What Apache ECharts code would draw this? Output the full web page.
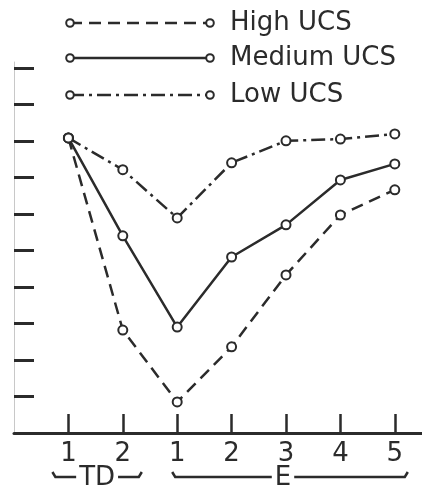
<!DOCTYPE html>
<html>
<head>
<meta charset="utf-8">
<script src="https://cdn.jsdelivr.net/npm/echarts@6/dist/echarts.min.js"></script>
<style>
html,body{margin:0;padding:0;background:#fff;}
#c{width:422px;height:489px;}
</style>
</head>
<body>
<div id="c"></div>
<script>
// ---- data ----
const tickLabels = ['1', '2', '1', '2', '3', '4', '5'];
const groupNames = ['TD', 'E'];
const groupSpans = [[1, 2], [3, 7]]; // positions (1-based) covered by each group
const seriesNames = ['High UCS', 'Medium UCS', 'Low UCS'];
const highUCS = [8.08, 2.82, 0.85, 2.36, 4.33, 5.97, 6.66];
const mediumUCS = [8.08, 5.40, 2.90, 4.82, 5.70, 6.93, 7.37];
const lowUCS = [8.08, 7.21, 5.89, 7.40, 8.00, 8.05, 8.19];
const yTicks = [1, 2, 3, 4, 5, 6, 7, 8, 9, 10];

// ---- styles ----
const ink = '#2b2b2b';
const font = 'DejaVu Sans';
const dashes = [[12, 7], 'solid', [14, 5, 3, 5]];
const values = [highUCS, mediumUCS, lowUCS];
const xPos = tickLabels.map((_, i) => i + 1);

const chart = echarts.init(document.getElementById('c'), null, {renderer: 'canvas'});

chart.setOption({
  animation: false,
  backgroundColor: '#fff',
  grid: {left: 14, right: 0, top: 62, bottom: 56, containLabel: false},
  xAxis: {
    type: 'value', min: 0, max: 7.5, interval: 1,
    axisLine: {show: true, lineStyle: {color: ink, width: 3}},
    axisTick: {show: true, inside: true, length: 19, customValues: xPos,
      lineStyle: {color: ink, width: 2.5}},
    axisLabel: {show: true, customValues: xPos, margin: 8,
      formatter: v => tickLabels[Math.round(v) - 1] || '',
      fontFamily: font, fontSize: 26, color: ink},
    splitLine: {show: false}
  },
  yAxis: {
    type: 'value', min: 0, max: 10.16,
    axisLine: {show: true, lineStyle: {color: '#c8c8c8', width: 1}},
    axisTick: {show: true, inside: true, length: 20, customValues: yTicks,
      lineStyle: {color: ink, width: 3}},
    axisLabel: {show: false},
    splitLine: {show: false}
  },
  series: seriesNames.map((name, s) => ({
    name: name,
    type: 'line',
    data: xPos.map((x, i) => [x, values[s][i]]),
    symbol: 'emptyCircle',
    symbolSize: 9,
    itemStyle: {color: ink, borderColor: ink, borderWidth: 2},
    lineStyle: {color: ink, width: 2.5, type: dashes[s]},
    z: 3
  }))
});

// ---- legend and group brackets as graphic elements ----
const graphics = [];
const legendX0 = 70, legendX1 = 210, legendY = [23, 58, 95];
seriesNames.forEach((name, s) => {
  const y = legendY[s];
  graphics.push({type: 'line', shape: {x1: legendX0, y1: y, x2: legendX1, y2: y},
    style: {stroke: ink, lineWidth: 2.5, lineDash: dashes[s] === 'solid' ? null : dashes[s]}});
  [legendX0, legendX1].forEach(cx => graphics.push({type: 'circle', shape: {cx: cx, cy: y, r: 3.8},
    style: {fill: '#fff', stroke: ink, lineWidth: 2}, z: 10}));
  graphics.push({type: 'text', x: 230, y: y, style: {text: name, font: '26px "' + font + '"',
    fill: ink, verticalAlign: 'middle', align: 'left'}});
});

const by = 477;
groupNames.forEach((g, k) => {
  const a = chart.convertToPixel({gridIndex: 0}, [groupSpans[k][0], 0])[0];
  const b = chart.convertToPixel({gridIndex: 0}, [groupSpans[k][1], 0])[0];
  const x0 = a - (k === 0 ? 16 : 5), x1 = b + (k === 0 ? 19 : 13);
  graphics.push({type: 'polyline', shape: {points: [[x0, by - 5], [x0 + 3, by], [x1 - 3, by], [x1, by - 5]]},
    style: {stroke: ink, lineWidth: 2.5, fill: null}});
  const mid = k === 0 ? (x0 + x1) / 2 : (a + b) / 2 - 3;
  graphics.push({type: 'text', x: mid, y: by + 1, z: 10, style: {text: g, font: '26px "' + font + '"',
    fill: ink, align: 'center', verticalAlign: 'middle', backgroundColor: '#fff', padding: [0, 3]}});
});

chart.setOption({graphic: graphics});
</script>
</body>
</html>
